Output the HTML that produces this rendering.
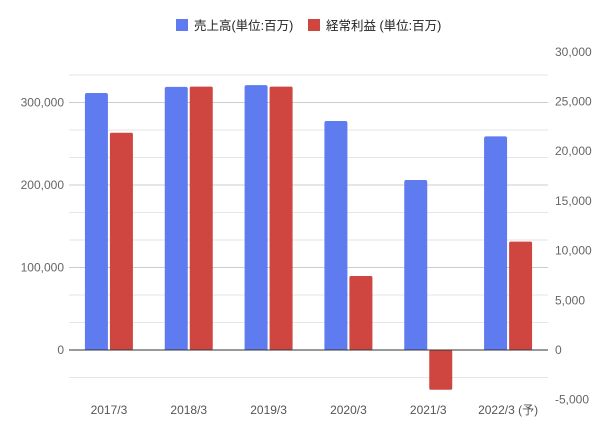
<!DOCTYPE html>
<html><head><meta charset="utf-8"><style>
body{margin:0;background:#fff;}
svg{display:block;font-family:"Liberation Sans","Noto Sans CJK JP",sans-serif;}
</style></head><body>
<svg id="chart" width="609" height="438" viewBox="0 0 609 438" xmlns="http://www.w3.org/2000/svg">
<g id="legend">
  <rect x="176" y="19" width="12" height="12" fill="#5f7bf0"/>
  <text x="194" y="30" font-size="12.5" fill="#222">売上高(単位:百万)</text>
  <rect x="308" y="19" width="12" height="12" fill="#cf4540"/>
  <text x="326" y="30" font-size="12.5" fill="#222">経常利益 (単位:百万)</text>
</g>
<g id="grid"></g><g id="bars"></g><g id="axes"></g>
</svg>
<script>
const categories=["2017/3","2018/3","2019/3","2020/3","2021/3","2022/3 (予)"];
const salesValues=[311500,319000,321000,277600,206000,259000];
const profitValues=[21850,26500,26500,7450,-4000,10900];
const leftTicks=[0,100000,200000,300000];
const rightTicks=[-5000,0,5000,10000,15000,20000,25000,30000];

const NS="http://www.w3.org/2000/svg";
const x0=69,x1=548,zeroY=350;
const yL=v=>zeroY-v*82.5/100000;
const yR=v=>zeroY-v*49.7/5000;
const step=(x1-x0)/categories.length;
const xC=i=>x0+step*(i+0.5);
function mk(tag,attrs,parent){const e=document.createElementNS(NS,tag);for(const k in attrs)e.setAttribute(k,attrs[k]);parent.appendChild(e);return e;}
const grid=document.getElementById('grid'),bars=document.getElementById('bars'),axes=document.getElementById('axes');
// gridlines: minor every 33,333 on left scale
for(let k=-1;k<=11;k++){
  const v=k*100000/3;const y=yL(v);
  if(y<70||k===0)continue;
  const major=(k%3===0);
  const l=mk('line',{x1:x0,x2:x1,y1:y,y2:y,stroke:major?'#ccc':'#e6e6e6','stroke-width':1},grid);
  
  
}
categories.forEach((c,i)=>{
  const cx=xC(i);
  const ys=yL(salesValues[i]);
  const b=mk('path',{d:`M${cx-24},${zeroY}V${ys+2}q0,-2 2,-2h19q2,0 2,2V${zeroY}Z`,fill:'#5f7bf0'},bars);
  
  
  const yp=yR(profitValues[i]);
  const top=Math.min(yp,zeroY),h=Math.abs(yp-zeroY);
  const r=mk('rect',{x:cx+1,y:top,width:23,height:h,rx:1.5,fill:'#cf4540'},bars);
  
  
  const t=mk('text',{x:cx,y:414,'font-size':12,fill:'#555','text-anchor':'middle'},axes);
  t.textContent=c;
  
  
});
const zl=mk('line',{x1:x0,x2:x1,y1:zeroY,y2:zeroY,stroke:'#333','stroke-width':1},axes);


leftTicks.forEach(v=>{
  const t=mk('text',{x:64,y:yL(v)+4,'font-size':12,fill:'#666','text-anchor':'end'},axes);
  t.textContent=v.toLocaleString('en-US');
  
  
});
rightTicks.forEach(v=>{
  const t=mk('text',{x:555,y:yR(v)+4,'font-size':12,fill:'#666'},axes);
  t.textContent=v.toLocaleString('en-US');
  
  
});
</script>
</body></html>
